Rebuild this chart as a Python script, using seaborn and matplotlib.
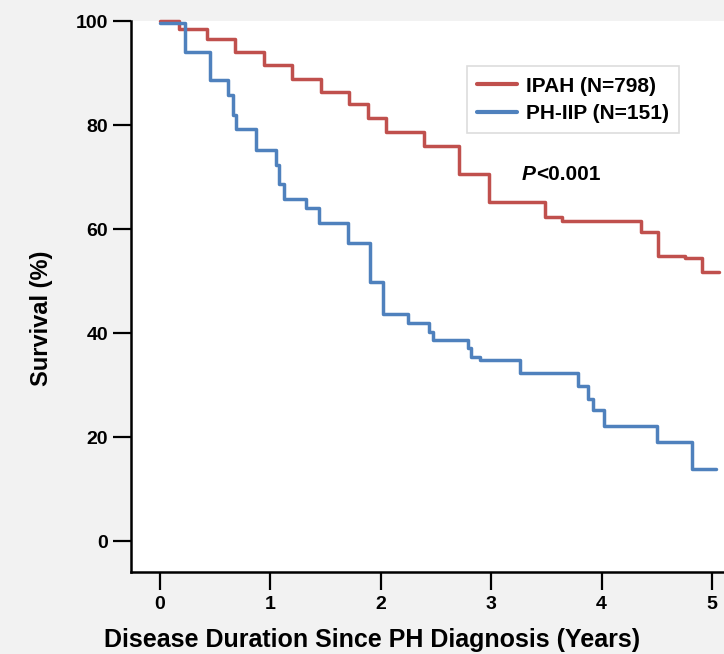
import matplotlib
matplotlib.use("Agg")
import matplotlib.pyplot as plt
import seaborn as sns
import pandas as pd

# ---- data ----
ipah_time = [0, 0.17, 0.43, 0.68, 0.94, 1.20, 1.46, 1.71, 1.88, 2.05, 2.39, 2.71,
             2.98, 3.49, 3.64, 4.36, 4.51, 4.76, 4.91, 5.06]
ipah_surv = [100, 98.4, 96.5, 94.0, 91.5, 88.9, 86.3, 84.0, 81.4, 78.7, 76.0, 70.6,
             65.1, 62.3, 61.6, 59.5, 54.9, 54.4, 51.8, 51.8]

phiip_time = [0, 0.23, 0.45, 0.62, 0.66, 0.69, 0.87, 1.05, 1.08, 1.12, 1.32, 1.44,
              1.70, 1.90, 2.02, 2.25, 2.44, 2.47, 2.79, 2.82, 2.90, 3.26, 3.79,
              3.88, 3.92, 4.02, 4.50, 4.82, 5.04]
phiip_surv = [99.6, 94.0, 88.6, 85.8, 81.9, 79.2, 75.2, 72.3, 68.7, 65.8, 64.0, 61.1,
              57.3, 49.8, 43.7, 41.9, 40.1, 38.6, 37.1, 35.3, 34.8, 32.4, 29.8,
              27.4, 25.1, 22.2, 19.0, 13.9, 13.9]

group_labels = ["IPAH (N=798)", "PH-IIP (N=151)"]
x_ticks = [0, 1, 2, 3, 4, 5]
y_ticks = [0, 20, 40, 60, 80, 100]

df = pd.concat([
    pd.DataFrame({"time": ipah_time, "surv": ipah_surv, "group": group_labels[0]}),
    pd.DataFrame({"time": phiip_time, "surv": phiip_surv, "group": group_labels[1]}),
], ignore_index=True)

sns.set_style("ticks")
plt.rcParams["font.family"] = ["Liberation Sans", "DejaVu Sans"]
plt.rcParams["font.weight"] = "bold"
plt.rcParams["text.color"] = "black"
plt.rcParams["axes.labelcolor"] = "black"
plt.rcParams["xtick.color"] = "black"
plt.rcParams["ytick.color"] = "black"
plt.rcParams["xtick.labelcolor"] = "black"
plt.rcParams["ytick.labelcolor"] = "black"

fig = plt.figure(figsize=(7.24, 6.54), dpi=100, facecolor="#f2f2f2")
ax = fig.add_axes([131 / 724, 1 - 572 / 654, 1 - 131 / 724, (572 - 21) / 654])
ax.set_facecolor("white")

palette = {group_labels[0]: "#c0504d", group_labels[1]: "#4f81bd"}
sns.lineplot(data=df, x="time", y="surv", hue="group", palette=palette,
             estimator=None, sort=False, drawstyle="steps-post",
             linewidth=2.5, ax=ax)
for ln in ax.lines:
    ln.set_clip_on(False)

ax.set_xlim(-0.263, 5.109)
ax.set_ylim(-5.96, 100)
ax.set_xticks(x_ticks)
ax.set_yticks(y_ticks)
ax.tick_params(axis="both", which="major", labelsize=14, width=1.6, length=13,
               color="black", labelcolor="black", direction="out")
ax.tick_params(axis="y", pad=3.5)
ax.tick_params(axis="x", pad=4)
for lab in ax.get_xticklabels() + ax.get_yticklabels():
    lab.set_fontweight("bold")

sns.despine(ax=ax)
for side in ["left", "bottom"]:
    ax.spines[side].set_linewidth(1.8)
    ax.spines[side].set_color("black")

ax.set_xlabel("Disease Duration Since PH Diagnosis (Years)", fontsize=18,
              fontweight="bold", labelpad=11, color="black")
ax.set_ylabel("Survival (%)", fontsize=17, fontweight="bold", labelpad=16,
              color="black")
ax.xaxis.label.set_x(0.407)
ax.yaxis.label.set_y(0.461)

leg = ax.legend(loc="upper left", bbox_to_anchor=(0.566, 0.918), borderaxespad=0,
                fancybox=False, frameon=True, handlelength=1.9,
                handletextpad=0.45, borderpad=0.5, labelspacing=0.4,
                prop={"weight": "bold", "size": 15})
leg.get_frame().set_edgecolor("#d4d4d4")
leg.get_frame().set_linewidth(1.2)
leg.get_frame().set_facecolor("white")
for h in leg.get_lines():
    h.set_linewidth(3)
for t in leg.get_texts():
    t.set_color("black")
leg.set_title(None)

tp = ax.text(3.279, 70.4, "P", fontsize=15, fontweight="bold", fontstyle="italic",
             ha="left", va="center", color="black")
ax.annotate("<0.001", xy=(1, 0.5), xycoords=tp, fontsize=15, fontweight="bold",
            ha="left", va="center", color="black")

fig.savefig("out.png", dpi=100, facecolor=fig.get_facecolor())
